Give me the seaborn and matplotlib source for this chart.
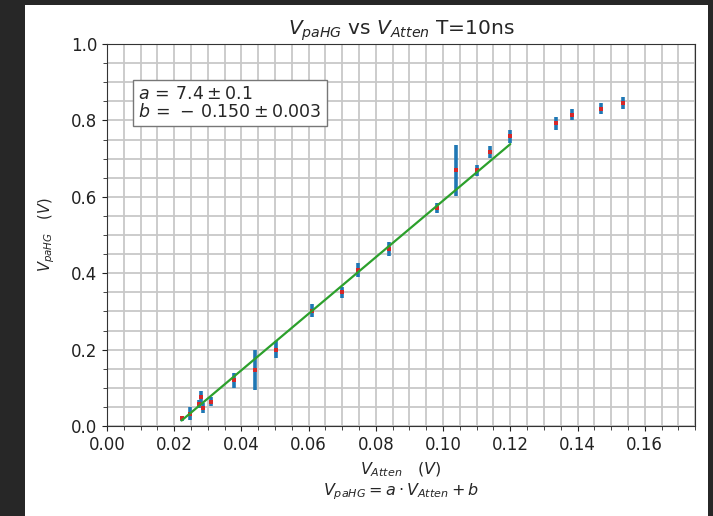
import matplotlib
matplotlib.use("Agg")
import matplotlib.pyplot as plt
from matplotlib.ticker import MultipleLocator
import seaborn as sns
import numpy as np
import pandas as pd

# --- datos ---
# puntos usados en el ajuste
x_fit = [0.0222, 0.0247, 0.0273, 0.0281, 0.0286, 0.0309, 0.0378, 0.0440, 0.0502,
         0.0610, 0.0700, 0.0747, 0.0838, 0.0983, 0.1037, 0.1100, 0.1141, 0.1200]
y_fit = [0.020, 0.032, 0.058, 0.076, 0.046, 0.064, 0.120, 0.147, 0.200,
         0.302, 0.350, 0.409, 0.463, 0.571, 0.669, 0.669, 0.717, 0.758]
yerr_fit = [0.006, 0.017, 0.011, 0.016, 0.013, 0.011, 0.020, 0.052, 0.022,
            0.017, 0.015, 0.018, 0.018, 0.013, 0.067, 0.015, 0.015, 0.017]

# puntos fuera del ajuste (saturacion)
x_sat = [0.1336, 0.1383, 0.1471, 0.1536]
y_sat = [0.793, 0.815, 0.831, 0.845]
yerr_sat = [0.017, 0.014, 0.015, 0.016]

a, a_err = 7.4, 0.1
b, b_err = -0.150, 0.003

x_all = x_fit + x_sat
y_all = y_fit + y_sat
yerr_all = yerr_fit + yerr_sat

df = pd.DataFrame({"V_Atten": x_all, "V_paHG": y_all})
x_line = np.array([min(x_fit), max(x_fit)])
df_fit = pd.DataFrame({"x": x_line, "y": a * x_line + b})

# --- grafica ---
sns.set_style("ticks")
plt.rcParams["font.family"] = ["DejaVu Sans"]

fig = plt.figure(figsize=(7.13, 5.16), dpi=100, facecolor="#272727")
fig.add_artist(plt.Rectangle((25 / 713, 0), 683 / 713, 511 / 516,
                             transform=fig.transFigure, facecolor="white",
                             edgecolor="none", zorder=0))
ax = fig.add_axes([0.150, 0.1744, 0.825, 0.7403])

ax.errorbar(x_all, y_all, yerr=yerr_all, fmt="none", ecolor="tab:blue",
            elinewidth=2.6, zorder=2)
sns.scatterplot(data=df, x="V_Atten", y="V_paHG", color="tab:red", s=8,
                marker="s", linewidth=0, ax=ax, zorder=3)
sns.lineplot(data=df_fit, x="x", y="y", color="tab:green", linewidth=1.6,
             ax=ax, zorder=4)

ax.set_xlim(0, 0.175)
ax.set_ylim(0, 1.0)
ax.xaxis.set_major_locator(MultipleLocator(0.02))
ax.xaxis.set_minor_locator(MultipleLocator(0.005))
ax.yaxis.set_major_locator(MultipleLocator(0.2))
ax.yaxis.set_minor_locator(MultipleLocator(0.05))
ax.xaxis.set_major_formatter(plt.FormatStrFormatter("%.2f"))
ax.yaxis.set_major_formatter(plt.FormatStrFormatter("%.1f"))
ax.grid(which="both", color="#c8c8c8", linewidth=1.3)
ax.set_axisbelow(True)
ax.tick_params(labelsize=12, colors="#222222")
ax.tick_params(which="minor", length=3)
for s in ax.spines.values():
    s.set_color("#333333")

ax.set_title(r"$V_{paHG}$ vs $V_{Atten}$ T=10ns", fontsize=14.5, pad=7)
ax.set_xlabel(r"$V_{Atten}$   $(V)$" + "\n" + r"$V_{paHG} = a \cdot V_{Atten} + b$",
              fontsize=11.5, labelpad=5)
ax.set_ylabel(r"$V_{paHG}$   $(V)$", fontsize=10.5, labelpad=10)

ax.text(0.053, 0.893,
        r"$a\,=\,%.1f \pm %.1f$" % (a, a_err) + "\n"
        + r"$b\,=\,-\,%.3f \pm %.3f$" % (abs(b), b_err),
        transform=ax.transAxes, ha="left", va="top", fontsize=12.5,
        linespacing=1.0,
        bbox=dict(boxstyle="square,pad=0.3", facecolor="white", edgecolor="#777777"))

fig.savefig("out.png", dpi=100, facecolor=fig.get_facecolor())
